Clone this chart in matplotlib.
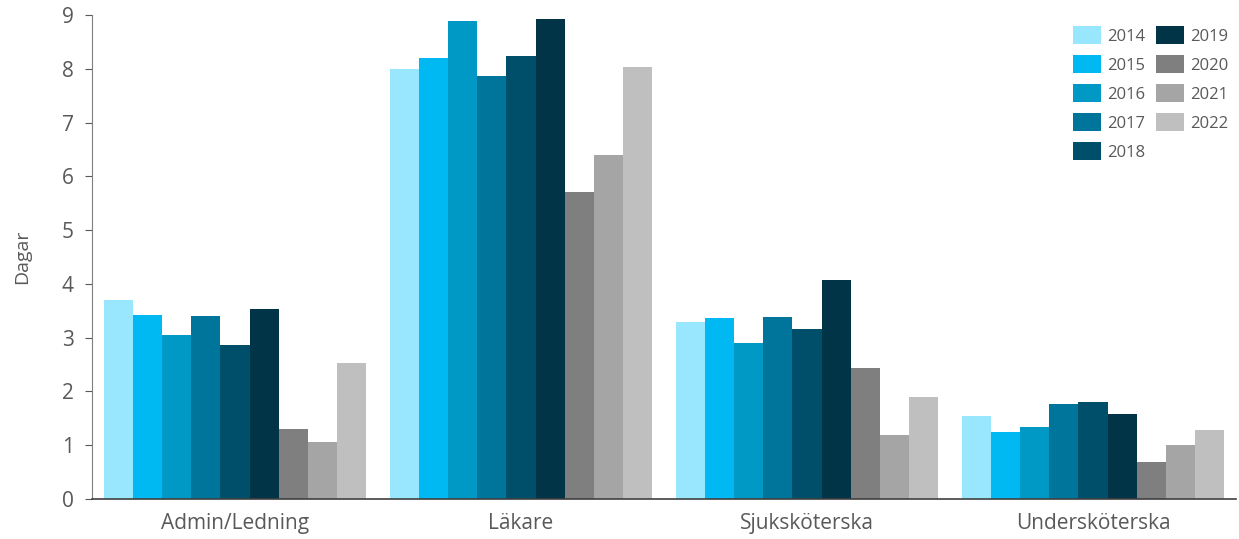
import matplotlib
matplotlib.use("Agg")
import matplotlib.pyplot as plt
import numpy as np

categories = ["Admin/Ledning", "Läkare", "Sjuksköterska", "Undersköterska"]
years = ["2014", "2015", "2016", "2017", "2018", "2019", "2020", "2021", "2022"]
v2014 = [3.70, 8.00, 3.29, 1.54]
v2015 = [3.42, 8.20, 3.37, 1.25]
v2016 = [3.05, 8.89, 2.90, 1.34]
v2017 = [3.40, 7.87, 3.38, 1.77]
v2018 = [2.86, 8.24, 3.16, 1.80]
v2019 = [3.53, 8.93, 4.07, 1.58]
v2020 = [1.30, 5.71, 2.44, 0.69]
v2021 = [1.06, 6.40, 1.19, 1.00]
v2022 = [2.53, 8.03, 1.90, 1.28]
series = [v2014, v2015, v2016, v2017, v2018, v2019, v2020, v2021, v2022]
colors = ["#99E6FF", "#00B9F2", "#0099C6", "#00759C", "#004F6A",
          "#003446", "#7F7F7F", "#A5A5A5", "#BFBFBF"]

plt.rcParams['font.family'] = ['Open Sans', 'DejaVu Sans']
fig = plt.figure(figsize=(12.39, 5.39), dpi=100)
ax = fig.add_axes([92/1239, 40/539, (1236-92)/1239, (499-15)/539])

x = np.arange(len(categories))
w = 0.1018
n = len(series)
for i, (vals, c, yr) in enumerate(zip(series, colors, years)):
    ax.bar(x + (i - (n-1)/2) * w, vals, width=w, color=c, label=yr,
           edgecolor=c, linewidth=0)

ax.set_xlim(-0.5, 3.5)
ax.set_ylim(0, 9)
ax.set_yticks(range(0, 10))
ax.set_xticks(x)
ax.set_xticklabels(categories)
txtc = "#595959"
ax.tick_params(axis='y', colors="#595959", labelcolor=txtc, labelsize=15, length=5, width=0.8, pad=8)
ax.tick_params(axis='x', length=0, labelcolor=txtc, labelsize=15, pad=10)
for s in ["top", "right"]:
    ax.spines[s].set_visible(False)
ax.spines["left"].set_color("#7F7F7F")
ax.spines["bottom"].set_color("#404040")
ax.spines["bottom"].set_linewidth(1.2)
ax.set_ylabel("Dagar", color=txtc, fontsize=14, labelpad=22)

leg = ax.legend(ncol=2, loc="upper right", bbox_to_anchor=(1237/1239, 1 - 18/539),
                bbox_transform=fig.transFigure, frameon=False, borderpad=0,
                fontsize=12, labelcolor=txtc, handlelength=1.68, handleheight=1.26,
                handletextpad=0.36, columnspacing=0.66, labelspacing=0.63)

fig.savefig("out.png", dpi=100)
